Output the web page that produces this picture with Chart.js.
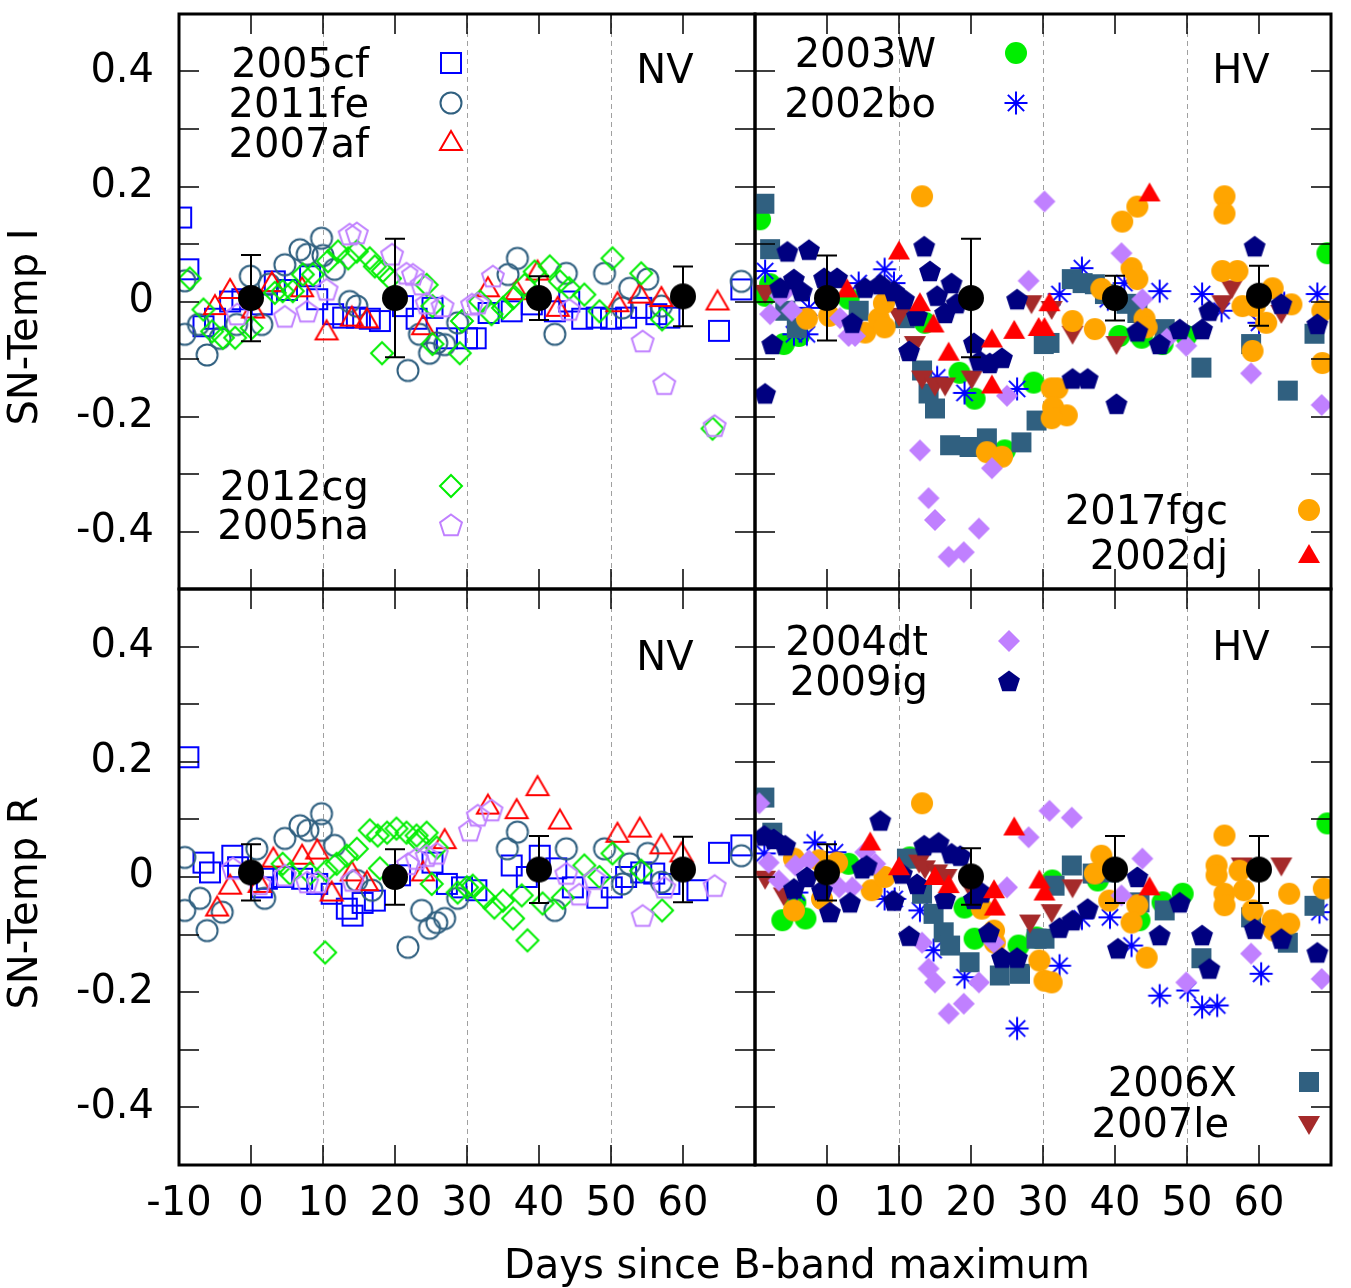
<!DOCTYPE html>
<html>
<head>
<meta charset="utf-8">
<title>SN-Temp residuals</title>
<script src="https://cdn.jsdelivr.net/npm/chart.js@4.4.1/dist/chart.umd.min.js"></script>
<style>
  body { margin: 0; background: #fff; }
  #wrap { position: relative; width: 1351px; height: 1288px; }
  #wrap canvas { position: absolute; left: 0; top: 0; width: 1351px; height: 1288px; }
</style>
</head>
<body>
<div id="wrap">
  <canvas id="tl" width="1351" height="1288"></canvas>
  <canvas id="tr" width="1351" height="1288"></canvas>
  <canvas id="bl" width="1351" height="1288"></canvas>
  <canvas id="br" width="1351" height="1288"></canvas>
</div>
<script>
// axis ticks
const xTicksLeft = [-10, 0, 10, 20, 30, 40, 50, 60];
const xTicksRight = [0, 10, 20, 30, 40, 50, 60];
const yTickLabels = [-0.4, -0.2, 0, 0.2, 0.4];
const yMinorTicks = [-0.4, -0.3, -0.2, -0.1, 0, 0.1, 0.2, 0.3, 0.4];
const dashedDays = [10, 30, 50];

// template means (days since max)
const meanDays = [0, 20, 40, 60];
const tlMean = [0.006, 0.006, 0.006, 0.009];
const tlErr = [0.075, 0.103, 0.038, 0.052];
const trMean = [0.006, 0.006, 0.006, 0.010];
const trErr = [0.074, 0.103, 0.039, 0.052];
const blMean = [0.008, 0.000, 0.013, 0.013];
const blErr = [0.049, 0.048, 0.058, 0.057];
const brMean = [0.008, 0.001, 0.013, 0.013];
const brErr = [0.049, 0.049, 0.058, 0.058];

// ---- SN-Temp I, normal velocity ----
const tl2005cf = [[-9.7,0.146],[-8.7,0.056],[-6.6,-0.043],[-5,-0.03],[-2.9,0],[-1.2,0.004],[1.5,-0.005],[3.3,0.035],[5,0.02],[8.2,0.044],[9.2,0.004],[11.4,-0.022],[12.8,-0.028],[14.7,-0.028],[16.5,-0.03],[17.9,-0.034],[21.1,-0.008],[23,-0.03],[25.2,-0.011],[27.2,-0.064],[30,-0.064],[31.2,-0.064],[33,-0.02],[36.2,-0.017],[39,-0.005],[42.2,-0.017],[44.2,0],[46,-0.03],[48,-0.028],[50,-0.03],[52.1,-0.028],[54.2,-0.011],[56.3,-0.022],[58.1,-0.028],[65,-0.051],[68.1,0.021]];
const tl2011fe = [[-9.2,0.036],[-9.2,-0.057],[-7.3,-0.04],[-6.1,-0.093],[-4.3,-0.064],[-2,-0.04],[-0.1,0.044],[1.5,-0.04],[2.5,0.03],[4.7,0.064],[6.8,0.09],[7.8,0.082],[9.8,0.11],[10,0.08],[11.6,0.056],[13.7,0],[14.7,-0.008],[21.8,-0.12],[23.4,-0.057],[24.8,-0.09],[25.8,-0.072],[26.9,-0.075],[28.7,-0.037],[35.7,0.047],[37,0.075],[42.2,-0.057],[43.8,0.049],[49.1,0.049],[51.6,-0.011],[52.6,0.023],[55.1,0.039],[57,-0.008],[68.1,0.035]];
const tl2007af = [[-5,-0.008],[-2.9,0.02],[0.3,-0.014],[2.9,0.032],[7.1,0.023],[10.5,-0.052],[14,-0.028],[16.1,-0.031],[23.9,-0.043],[32.9,0.023],[36.9,0.018],[39.8,0.052],[42.6,-0.011],[50.9,-0.003],[54,0.012],[57,0.006],[64.8,0]];
const tl2012cg = [[-8.5,0.04],[-6.6,-0.014],[-5.4,-0.052],[-3.9,-0.063],[-2.2,-0.063],[0.1,-0.046],[3.3,0.015],[4.4,0.018],[5.8,0.018],[7.2,0.047],[8.6,0.047],[10.7,0.07],[12.1,0.087],[13.5,0.075],[14.7,0.087],[16.5,0.075],[17.2,0.061],[18.3,0.053],[19.3,0.04],[18.2,-0.09],[24.4,0.029],[25.2,-0.008],[25.2,-0.074],[29,-0.09],[29.3,-0.034],[31.8,0],[33.4,-0.022],[35,-0.011],[36.4,0.006],[38,0.029],[39.4,0.052],[41.5,0.061],[42.9,0.035],[44.2,0.023],[46.3,0.012],[48.4,-0.017],[50.2,0.075],[54.2,0.049],[57.1,-0.031],[64.1,-0.221]];
const tl2005na = [[-1.9,-0.022],[4.7,-0.026],[7.8,-0.017],[10.5,0.021],[13.7,0.117],[14.7,0.119],[19.6,0.082],[21.6,0.049],[22.5,0.047],[23.7,0.03],[24.4,-0.003],[26.6,-0.008],[30.7,-0.005],[31.5,-0.003],[33.6,0.044],[44.2,-0.014],[54.4,-0.069],[57.4,-0.143],[64.4,-0.216]];

// ---- SN-Temp I, high velocity ----
const tr2003W = [[-9.3,0.143],[-7.9,0.03],[-8.6,0.01],[-6,-0.074],[-3.9,-0.06],[3,0.005],[13.6,-0.037],[18.4,-0.124],[20.5,-0.169],[24.7,-0.259],[28.7,-0.141],[40.6,-0.06],[43.7,-0.063],[46.6,-0.074],[49.9,-0.06],[69.5,0.084]];
const tr2002bo = [[-8.6,0.053],[-4.6,-0.057],[-2.8,-0.057],[-2.5,-0.011],[4.4,0.032],[8,0.056],[9.3,0.032],[15.3,-0.132],[19.1,-0.159],[26.4,-0.152],[32.3,0.013],[35.4,0.058],[39,0.004],[41.3,0.032],[46.2,0.018],[52.1,0.013],[54.8,-0.016],[60,-0.037],[63.5,-0.003],[68.1,0.013]];
const tr2006X = [[-8.7,0.17],[-7.9,0.091],[-5.8,-0.016],[-4.2,-0.046],[4.4,-0.016],[10.8,-0.029],[13.2,-0.12],[14.1,-0.16],[15,-0.186],[17.1,-0.25],[19.8,-0.253],[22.2,-0.238],[27,-0.245],[29.1,-0.207],[30.1,-0.074],[30.9,-0.072],[34,0.039],[35.5,0.032],[37.2,0.03],[38.6,0.013],[41.6,-0.004],[43.1,-0.02],[46.9,-0.048],[52,-0.115],[58.9,-0.074],[64,-0.155],[67.7,-0.056]];
const tr2007le = [[-8.6,0.015],[10,-0.025],[12.2,-0.074],[13.2,-0.134],[15,-0.146],[16.4,-0.146],[20.1,-0.134],[28.4,-0.003],[31.2,-0.013],[34.1,-0.056],[40.2,-0.074],[54.9,-0.003],[56.2,0.023],[63.1,-0.02]];
const tr2017fgc = [[-2.8,-0.03],[0.3,-0.025],[5.3,-0.054],[7.2,-0.03],[8,-0.045],[7.9,-0.003],[8.6,0.013],[13.2,0.183],[22.2,-0.262],[24.3,-0.27],[31.2,-0.151],[32,-0.151],[31.4,-0.184],[33.3,-0.198],[31.2,-0.203],[34.1,-0.034],[37.2,-0.048],[38.1,0.022],[41,0.139],[43.1,0.165],[42.3,0.058],[43.1,0.039],[44.1,-0.03],[44.4,-0.045],[55.2,0.183],[55.2,0.153],[54.9,0.053],[57,0.053],[57.7,-0.008],[59.4,-0.008],[59.1,-0.086],[61.9,0.023],[61,-0.037],[64.5,-0.005],[68.8,-0.016],[68.8,-0.107]];
const tr2004dt = [[-7.9,-0.022],[-6.5,0.01],[-5.8,0.018],[-4.9,-0.016],[1.8,-0.029],[3,-0.06],[3.9,-0.06],[12.9,-0.259],[14.1,-0.342],[15,-0.38],[16.9,-0.444],[19,-0.436],[21.1,-0.395],[22.9,-0.29],[25,-0.164],[28,0.036],[30.2,0.174],[40.9,0.084],[43.8,0.004],[47.2,-0.065],[49.9,-0.077],[58.9,-0.125],[68.7,-0.18]];
const tr2009ig = [[-8.6,-0.16],[-7.6,-0.074],[-5.5,0.087],[-2.5,0.09],[-6.5,0.024],[-4.6,0.039],[-3.5,0.018],[-0.4,0.041],[1.4,0.041],[3.5,-0.037],[5.3,0.024],[7.4,0.03],[9.3,0.018],[10.7,0.004],[11.4,-0.086],[12.5,-0.025],[13.5,0.096],[14.3,0.053],[15.3,0.01],[16.4,-0.02],[17.3,0.032],[18,-0.003],[20.4,-0.072],[21.2,-0.103],[22.6,-0.107],[24.3,-0.098],[26.4,0.004],[34.1,-0.134],[36.2,-0.134],[40.2,-0.178],[43.1,-0.052],[46.2,-0.074],[49,-0.048],[52.1,-0.048],[53.1,-0.016],[59.4,0.096],[63.1,-0.004],[68.1,-0.039]];
const tr2002dj = [[2.8,0.021],[10,0.087],[12.9,-0.003],[14.8,-0.04],[16.9,-0.089],[22.9,-0.066],[22.9,-0.146],[26,-0.051],[29.4,-0.046],[30.2,-0.046],[30.9,-0.003],[44.8,0.188]];

// ---- SN-Temp R, normal velocity ----
const bl2005cf = [[-8.7,0.208],[-6.6,0.025],[-5.7,0.008],[-2.6,0.037],[-1.8,0.017],[1.5,-0.018],[2.2,-0.003],[4.5,0],[7.1,-0.003],[9.2,-0.012],[11.2,-0.029],[13.3,-0.055],[14.1,-0.067],[15.5,-0.045],[17.2,-0.041],[20.7,0.003],[25.2,0.025],[27.2,-0.012],[29.3,-0.018],[31.3,-0.023],[36.2,0.02],[38.3,0],[40.1,0.037],[42.4,0.015],[44.7,-0.018],[48.1,-0.036],[50.1,-0.018],[52.1,0],[54.2,0.008],[56,0.006],[58.1,-0.012],[62,-0.023],[65,0.042],[68.1,0.055]];
const bl2011fe = [[-9.2,0.034],[-9.2,-0.058],[-7.1,-0.037],[-6.1,-0.093],[-4,-0.061],[0.8,0.049],[1.9,-0.037],[4.7,0.067],[6.8,0.089],[7.9,0.081],[9.8,0.11],[9.8,0.081],[11.6,0.055],[14.7,-0.006],[16.8,-0.023],[21.8,-0.122],[23.7,-0.058],[24.8,-0.089],[25.8,-0.079],[26.9,-0.072],[28.7,-0.037],[35.6,0.049],[37,0.078],[42.2,-0.058],[43.8,0.049],[49.1,0.049],[51.6,-0.012],[52.6,0.023],[55.1,0.041],[57,-0.009],[68.1,0.037]];
const bl2007af = [[-4.7,-0.053],[-2.9,-0.015],[1.2,-0.012],[3.1,0.032],[7.1,0.037],[9.2,0.046],[11.2,-0.027],[14,0.008],[16.1,-0.009],[23.9,0.008],[26.9,0.064],[32.9,0.124],[36.9,0.116],[39.8,0.156],[42.9,0.098],[50.9,0.075],[54,0.084],[57,0.055],[59.8,0.041]];
const bl2012cg = [[4.4,0.023],[5.4,0.006],[8.2,0.006],[10.3,-0.131],[10.5,0.011],[11.9,0.023],[13.3,0.037],[14.7,0.049],[16.5,0.081],[17.6,0.072],[18.9,0.077],[20.2,0.084],[21.6,0.077],[23,0.072],[23.2,0.063],[24.4,0.077],[25.8,0.051],[17.9,0.015],[25.1,-0.012],[28.7,-0.027],[30,-0.018],[30.8,-0.015],[32.5,-0.036],[33.8,-0.053],[35,-0.041],[36.4,-0.072],[37.6,-0.032],[38.4,-0.11],[40.5,-0.046],[43.3,-0.036],[46.3,0.02],[48.4,0],[50.2,0.041],[54.2,0.011],[57.1,-0.058]];
const bl2005na = [[-2.5,0.015],[1.2,-0.012],[4.7,0.003],[7.8,-0.009],[9.3,-0.009],[14.1,-0.006],[21.8,0.023],[23,0.032],[24.4,0.037],[25.8,0.041],[30.4,0.081],[31.5,0.107],[33.4,0.116],[43.8,0.006],[45.6,-0.03],[47.7,-0.003],[54.4,-0.067],[57.4,-0.018],[64.4,-0.015]];

// ---- SN-Temp R, high velocity ----
const br2003W = [[-6.2,-0.075],[-3,-0.072],[-4.4,-0.044],[3,0.023],[11.5,0.034],[19.1,-0.053],[20.5,-0.107],[26.6,-0.119],[29.1,-0.105],[31.3,-0.006],[37.6,-0.006],[43.4,-0.075],[46.6,-0.044],[49.4,-0.029],[69.5,0.093]];
const br2002bo = [[-8.7,0.041],[-1.7,0.06],[1.1,0.043],[-4.2,-0.027],[8,-0.038],[9.4,-0.038],[12.9,-0.058],[14.8,-0.127],[19.1,-0.174],[26.4,-0.263],[32.3,-0.154],[35.4,-0.072],[39.3,-0.07],[42.3,-0.119],[46.2,-0.206],[50.1,-0.197],[52.1,-0.226],[54.2,-0.223],[60.3,-0.168],[68.4,-0.061]];
const br2006X = [[-8.7,0.138],[-7.6,0.077],[11.1,0.032],[13.2,-0.029],[14.8,-0.064],[16.2,-0.096],[17.1,-0.119],[19.8,-0.148],[24,-0.171],[26.8,-0.168],[29.1,-0.107],[30.2,-0.107],[31.6,-0.015],[34,0.02],[36.9,0.006],[39.2,0.008],[43.4,-0.044],[46.9,-0.058],[52,-0.141],[58.9,-0.07],[64,-0.114],[67.7,-0.05]];
const br2007le = [[-8.6,-0.003],[-6,-0.032],[12.8,0.025],[13.6,0.015],[15.3,0.008],[16.6,0],[20.1,-0.023],[28.2,-0.079],[31.2,-0.061],[34.1,-0.018],[57.6,0.02],[63.1,0.02]];
const br2017fgc = [[-4.6,0.032],[-4.6,-0.058],[-1.1,0.029],[-0.7,-0.038],[1.4,0.025],[6.2,-0.023],[8,0],[13.2,0.128],[21.5,-0.055],[23.2,-0.093],[23.3,-0.114],[29.5,-0.145],[30.2,-0.18],[31.2,-0.183],[38.1,0.037],[37.2,0.006],[39.2,-0.041],[43.1,-0.049],[42.3,-0.079],[44.4,-0.14],[55.2,0.072],[54.1,0.02],[54.1,0.003],[55.2,-0.029],[55.2,-0.049],[57.3,0.011],[57.9,-0.023],[59.1,-0.058],[61.9,-0.075],[62.1,-0.093],[64.2,-0.081],[64.2,-0.029],[69,-0.02]];
const br2004dt = [[-9.4,0.128],[-8.1,0.025],[-6.7,-0.006],[-4.4,0.02],[-2.5,0.029],[1.7,-0.018],[3.5,-0.018],[5.3,0.043],[6.7,0.023],[13.2,-0.114],[14.1,-0.159],[15,-0.183],[16.9,-0.237],[19,-0.22],[21.1,-0.183],[23.2,-0.114],[25,-0.018],[28,0.069],[30.9,0.115],[34,0.103],[40.9,-0.032],[43.8,0.032],[49.9,-0.183],[58.9,-0.133],[68.7,-0.177]];
const br2009ig = [[-8.7,0.072],[-7.4,0.066],[-5.8,0.055],[-4.6,-0.02],[-2.8,0],[-0.7,-0.023],[0.4,-0.061],[3.2,-0.044],[4.9,0.015],[5.5,0.02],[7.4,0.098],[9.3,-0.041],[10.4,0.006],[11.4,-0.102],[12.5,-0.012],[13.5,0.055],[15.5,0.06],[16.4,-0.038],[17.3,0.041],[18.5,0.037],[20.4,-0.038],[21.5,-0.027],[22.5,-0.096],[24.3,-0.14],[26.4,-0.14],[32.3,-0.088],[34.1,-0.075],[36.2,-0.055],[40.4,-0.124],[43.1,0],[46.2,-0.101],[49,-0.044],[52.1,-0.101],[53.1,-0.159],[59.4,-0.09],[63.1,-0.107],[68.1,-0.131]];
const br2002dj = [[6,0.06],[10,0.017],[15,0],[16.9,-0.014],[23.2,-0.023],[23.3,-0.053],[26,0.086],[29.5,-0.006],[30.2,-0.027],[44.8,-0.018]];

// marker style per supernova: shape, colour, filled
const markerStyle = {
  '2005cf': ['square', '#0000ff', false],
  '2011fe': ['circle', '#306080', false],
  '2007af': ['triangle', '#ff0000', false],
  '2012cg': ['diamond', '#00ee00', false],
  '2005na': ['pentagon', '#c080ff', false],
  '2003W': ['circle', '#00ee00', true],
  '2002bo': ['asterisk', '#0000ff', false],
  '2006X': ['square', '#306080', true],
  '2007le': ['triangleDown', '#a52a2a', true],
  '2017fgc': ['circle', '#ffa500', true],
  '2004dt': ['diamond', '#c080ff', true],
  '2009ig': ['pentagon', '#000080', true],
  '2002dj': ['triangle', '#ff0000', true]
};

function makeMarker(shape, color, filled, r) {
  const S = 34;
  const c = document.createElement('canvas');
  c.width = S; c.height = S;
  const g = c.getContext('2d');
  g.translate(S / 2, S / 2);
  g.strokeStyle = color;
  g.fillStyle = color;
  g.lineWidth = 2;
  g.beginPath();
  if (shape === 'square') {
    g.rect(-10, -10, 20, 20);
  } else if (shape === 'circle') {
    g.arc(0, 0, r || (filled ? 11 : 10.5), 0, Math.PI * 2);
  } else if (shape === 'triangle') {
    g.moveTo(0, -11); g.lineTo(11, 8); g.lineTo(-11, 8); g.closePath();
  } else if (shape === 'triangleDown') {
    g.moveTo(0, 11); g.lineTo(11, -8); g.lineTo(-11, -8); g.closePath();
  } else if (shape === 'diamond') {
    g.moveTo(0, -11); g.lineTo(11, 0); g.lineTo(0, 11); g.lineTo(-11, 0); g.closePath();
  } else if (shape === 'pentagon') {
    for (let i = 0; i < 5; i++) {
      const a = -Math.PI / 2 + i * 2 * Math.PI / 5;
      g.lineTo(11.5 * Math.cos(a), 11.5 * Math.sin(a) + 1);
    }
    g.closePath();
  } else if (shape === 'asterisk') {
    for (let i = 0; i < 4; i++) {
      const a = i * Math.PI / 4;
      g.moveTo(-11.5 * Math.cos(a), -11.5 * Math.sin(a));
      g.lineTo(11.5 * Math.cos(a), 11.5 * Math.sin(a));
    }
  }
  if (filled) g.fill(); else g.stroke();
  return c;
}

const markers = {};
Object.keys(markerStyle).forEach(k => {
  const s = markerStyle[k];
  markers[k] = makeMarker(s[0], s[1], s[2]);
});
const meanMarker = makeMarker('circle', '#000000', true, 13);

const FONT = '40px "DejaVu Sans"';

// panel layout, texts and series (series listed bottom -> top)
const panels = {
  tl: {
    pad: { left: 0, top: 13, right: 596, bottom: 699 }, showX: false, showY: true,
    series: { '2005cf': tl2005cf, '2011fe': tl2011fe, '2007af': tl2007af, '2012cg': tl2012cg, '2005na': tl2005na },
    mean: tlMean, err: tlErr,
    keys: [['2005cf', 369, 77, 451, 63], ['2011fe', 369, 117, 451, 103], ['2007af', 369, 157, 451, 142],
           ['2012cg', 369, 500, 451, 486], ['2005na', 369, 539, 451, 525]],
    labels: [['NV', 665, 83]],
    yTitle: ['SN-Temp I', 37, 327]
  },
  tr: {
    pad: { left: 755, top: 13, right: 20, bottom: 699 }, showX: false, showY: false,
    series: { '2003W': tr2003W, '2002bo': tr2002bo, '2006X': tr2006X, '2007le': tr2007le, '2017fgc': tr2017fgc, '2004dt': tr2004dt, '2009ig': tr2009ig, '2002dj': tr2002dj },
    mean: trMean, err: trErr,
    keys: [['2003W', 936, 67, 1016, 53], ['2002bo', 936, 117, 1016, 103],
           ['2017fgc', 1228, 524, 1309, 510], ['2002dj', 1228, 569, 1309, 555]],
    labels: [['HV', 1241, 83]]
  },
  bl: {
    pad: { left: 0, top: 589, right: 596, bottom: 0 }, showX: true, showY: true,
    series: { '2005cf': bl2005cf, '2011fe': bl2011fe, '2007af': bl2007af, '2012cg': bl2012cg, '2005na': bl2005na },
    mean: blMean, err: blErr,
    keys: [],
    labels: [['NV', 665, 670]],
    yTitle: ['SN-Temp R', 37, 903],
    xTitle: ['Days since B-band maximum', 797, 1278]
  },
  br: {
    pad: { left: 755, top: 589, right: 20, bottom: 0 }, showX: true, showY: false,
    series: { '2003W': br2003W, '2002bo': br2002bo, '2006X': br2006X, '2007le': br2007le, '2017fgc': br2017fgc, '2004dt': br2004dt, '2009ig': br2009ig, '2002dj': br2002dj },
    mean: brMean, err: brErr,
    keys: [['2004dt', 928, 655, 1009, 641], ['2009ig', 928, 695, 1009, 681],
           ['2006X', 1237, 1096, 1309, 1082], ['2007le', 1229, 1137, 1309, 1124]],
    labels: [['HV', 1241, 660]]
  }
};

// frame, ticks, dashed grid, error bars and texts
const deco = {
  id: 'deco',
  beforeDatasetsDraw(chart) {
    const { ctx, chartArea: a, scales: { x } } = chart;
    ctx.save();
    ctx.strokeStyle = '#a0a0a0';
    ctx.lineWidth = 1;
    ctx.setLineDash([5, 4]);
    dashedDays.forEach(d => {
      const px = Math.round(x.getPixelForValue(d)) + 0.5;
      ctx.beginPath(); ctx.moveTo(px, a.top); ctx.lineTo(px, a.bottom); ctx.stroke();
    });
    ctx.restore();
  },
  afterDatasetsDraw(chart) {
    const p = panels[chart.canvas.id];
    const { ctx, chartArea: a, scales: { x, y } } = chart;
    ctx.save();
    // error bars of the template means
    ctx.strokeStyle = '#000';
    ctx.lineWidth = 2;
    meanDays.forEach((d, i) => {
      const px = x.getPixelForValue(d);
      const y1 = y.getPixelForValue(p.mean[i] + p.err[i]);
      const y2 = y.getPixelForValue(p.mean[i] - p.err[i]);
      ctx.beginPath();
      ctx.moveTo(px, y1); ctx.lineTo(px, y2);
      ctx.moveTo(px - 10, y1); ctx.lineTo(px + 10, y1);
      ctx.moveTo(px - 10, y2); ctx.lineTo(px + 10, y2);
      ctx.stroke();
    });
    // ticks on all four sides
    ctx.lineWidth = 1.5;
    ctx.beginPath();
    yMinorTicks.forEach(v => {
      const py = Math.round(y.getPixelForValue(v));
      ctx.moveTo(a.left, py); ctx.lineTo(a.left + 20, py);
      ctx.moveTo(a.right, py); ctx.lineTo(a.right - 20, py);
    });
    xTicksRight.forEach(d => {
      const px = Math.round(x.getPixelForValue(d));
      ctx.moveTo(px, a.bottom); ctx.lineTo(px, a.bottom - 20);
      ctx.moveTo(px, a.top); ctx.lineTo(px, a.top + 20);
    });
    ctx.stroke();
    // frame
    ctx.lineWidth = 3;
    ctx.strokeRect(a.left, a.top, a.right - a.left, a.bottom - a.top);
    // texts
    ctx.fillStyle = '#000';
    ctx.font = FONT;
    ctx.textBaseline = 'alphabetic';
    ctx.textAlign = 'right';
    p.keys.forEach(k => {
      ctx.fillText(k[0], k[1], k[2]);
      const m = markers[k[0]];
      ctx.drawImage(m, k[3] - m.width / 2, k[4] - m.height / 2);
    });
    ctx.textAlign = 'center';
    p.labels.forEach(l => ctx.fillText(l[0], l[1], l[2]));
    if (p.xTitle) ctx.fillText(p.xTitle[0], p.xTitle[1], p.xTitle[2]);
    if (p.yTitle) {
      ctx.translate(p.yTitle[1], p.yTitle[2]);
      ctx.rotate(-Math.PI / 2);
      ctx.fillText(p.yTitle[0], 0, 0);
    }
    ctx.restore();
  }
};
Chart.register(deco);

Object.keys(panels).forEach(id => {
  const p = panels[id];
  const names = Object.keys(p.series);
  const datasets = [{
    label: 'mean',
    data: meanDays.map((d, i) => ({ x: d, y: p.mean[i] })),
    pointStyle: meanMarker,
    pointRadius: 13
  }];
  names.slice().reverse().forEach(n => {
    datasets.push({
      label: n,
      data: p.series[n].map(v => ({ x: v[0], y: v[1] })),
      pointStyle: markers[n],
      pointRadius: 11
    });
  });
  const xTicks = id === 'bl' || id === 'tl' ? xTicksLeft : xTicksRight;
  new Chart(document.getElementById(id), {
    type: 'scatter',
    data: { datasets },
    options: {
      responsive: false,
      devicePixelRatio: 1,
      animation: false,
      events: [],
      layout: { padding: p.pad },
      plugins: { legend: { display: false }, tooltip: { enabled: false } },
      scales: {
        x: {
          type: 'linear', min: -10, max: 70,
          afterBuildTicks: s => { s.ticks = xTicks.map(v => ({ value: v })); },
          afterFit: s => { s.height = p.showX ? 123 : 0; s.paddingLeft = 0; s.paddingRight = 0; },
          grid: { display: false, drawTicks: false },
          border: { display: false },
          ticks: { display: p.showX, font: { family: 'DejaVu Sans', size: 40 }, color: '#000', padding: 16, maxRotation: 0, autoSkip: false, callback: v => String(v) }
        },
        y: {
          type: 'linear', min: -0.5, max: 0.5,
          afterBuildTicks: s => { s.ticks = yTickLabels.map(v => ({ value: v })); },
          afterFit: s => { s.width = p.showY ? 179 : 0; s.paddingTop = 0; s.paddingBottom = 0; },
          grid: { display: false, drawTicks: false },
          border: { display: false },
          ticks: { display: p.showY, font: { family: 'DejaVu Sans', size: 40 }, color: '#000', padding: 25, callback: v => String(v) }
        }
      }
    }
  });
});
</script>
</body>
</html>
